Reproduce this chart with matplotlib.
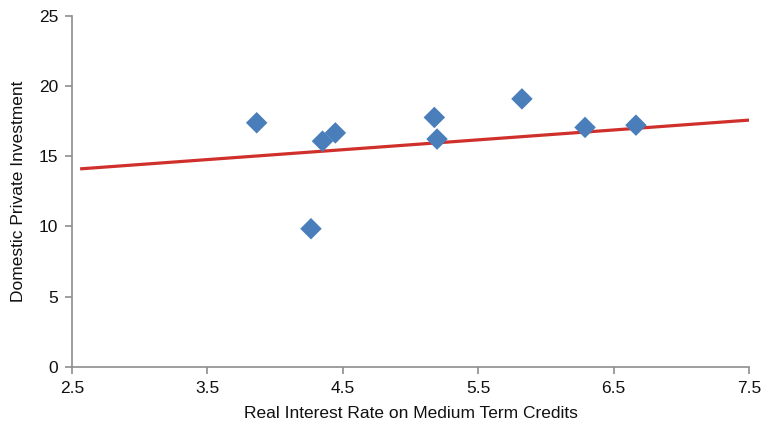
import matplotlib
matplotlib.use("Agg")
import matplotlib.pyplot as plt

plt.rcParams['font.family'] = ['Liberation Sans', 'DejaVu Sans']

rate = [3.864, 4.35, 4.445, 4.265, 5.176, 5.196, 5.823, 6.289, 6.665]
investment = [17.38, 16.07, 16.66, 9.84, 17.76, 16.22, 19.08, 17.05, 17.21]
trend_x = [2.56, 7.5]
trend_y = [14.1, 17.57]
xticks = [2.5, 3.5, 4.5, 5.5, 6.5, 7.5]
yticks = [0, 5, 10, 15, 20, 25]

fig = plt.figure(figsize=(7.62, 4.24), dpi=100)
ax = fig.add_axes([72/762, 57/424, (749-72)/762, (367-15.7)/424])

ax.plot(trend_x, trend_y, color='#d0302b', lw=2.3, zorder=2, solid_capstyle='butt')
ax.scatter(rate, investment, marker='D', s=120, color='#4a7ebb', edgecolors='none', zorder=3)

ax.set_xlim(2.5, 7.5)
ax.set_ylim(0, 25)
ax.set_xticks(xticks)
ax.set_xticklabels([f"{v:.1f}" for v in xticks])
ax.set_yticks(yticks)
ax.set_yticklabels([str(v) for v in yticks])

for s in ['top', 'right']:
    ax.spines[s].set_visible(False)
for s in ['left', 'bottom']:
    ax.spines[s].set_color('#8e8e8e')
    ax.spines[s].set_linewidth(1.2)
ax.tick_params(axis='both', direction='out', length=5, width=1.2, color='#8e8e8e',
               labelsize=12.5, labelcolor='#111111', pad=5)

ax.set_xlabel('Real Interest Rate on Medium Term Credits', fontsize=12.5, color='#111111', labelpad=7)
ax.set_ylabel('Domestic Private Investment', fontsize=12.5, color='#111111', labelpad=9)

fig.savefig('out.png', dpi=100)
